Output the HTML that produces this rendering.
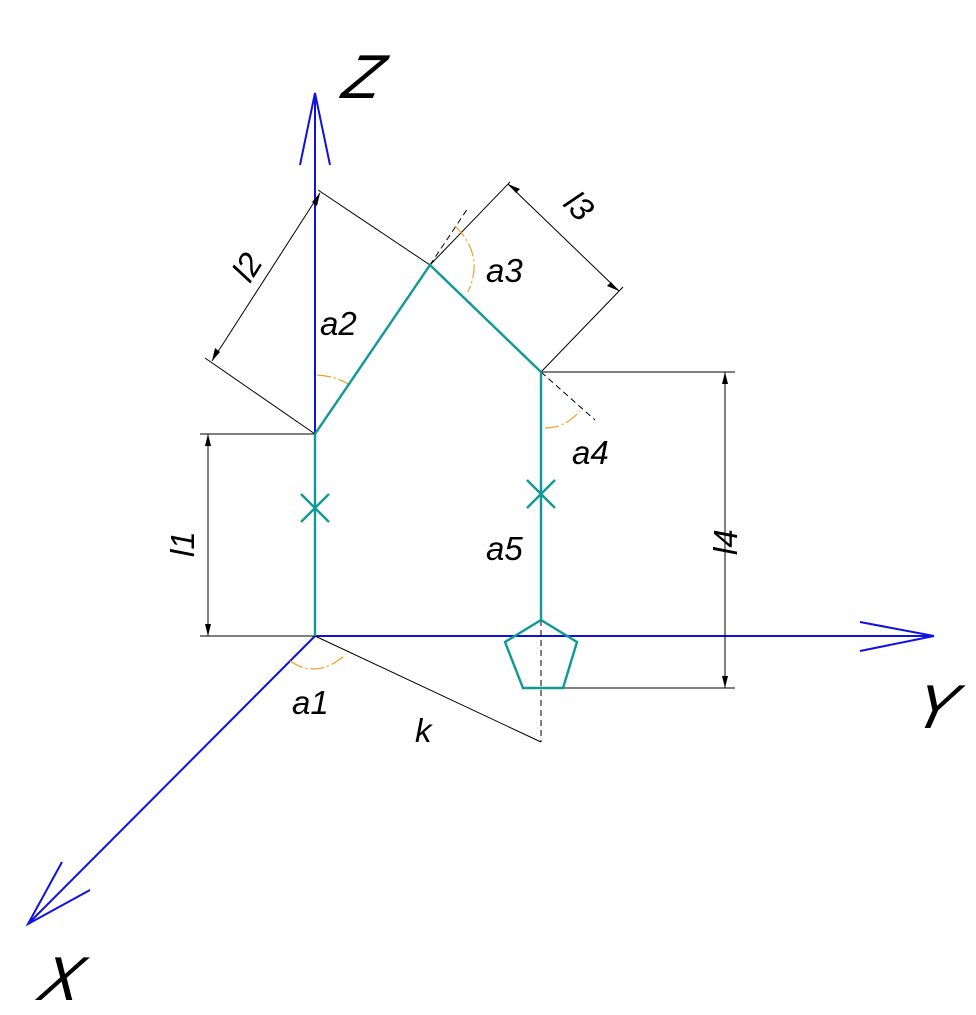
<!DOCTYPE html>
<html><head><meta charset="utf-8"><style>
html,body{margin:0;padding:0;background:#fff;}
svg{display:block;}
text{font-family:"Liberation Sans",sans-serif;fill:#000;}
</style></head><body>
<svg width="976" height="1015" viewBox="0 0 976 1015" xmlns="http://www.w3.org/2000/svg">
<rect width="976" height="1015" fill="#fff"/>
<g stroke="#1010e0" stroke-width="2" fill="none">
<line x1="315" y1="636" x2="315" y2="93"/>
<polyline points="300,165 315,93 330,165"/>
<line x1="315" y1="636" x2="934" y2="636"/>
<polyline points="860,622 934,636 860,651"/>
<line x1="315" y1="636" x2="28" y2="924"/>
<polyline points="62,862 28,924 90,890"/>
</g>
<g stroke="#000" stroke-width="1" fill="none">
<line x1="315" y1="434" x2="205" y2="358"/>
<line x1="430" y1="265" x2="318" y2="190"/>
<line x1="212" y1="361" x2="320" y2="193"/>
<line x1="430" y1="265" x2="510" y2="182"/>
<line x1="541" y1="372" x2="623" y2="287"/>
<line x1="508" y1="184" x2="619" y2="291"/>
<line x1="200" y1="434" x2="315" y2="434"/>
<line x1="200" y1="636" x2="315" y2="636"/>
<line x1="208" y1="434" x2="208" y2="636"/>
<line x1="541" y1="372" x2="735" y2="372"/>
<line x1="550" y1="688" x2="735" y2="688"/>
<line x1="725" y1="372" x2="725" y2="688"/>
<line x1="315" y1="636" x2="541" y2="742"/>
<line x1="541" y1="620" x2="541" y2="742" stroke-dasharray="6,4"/>
<line x1="430" y1="265" x2="468" y2="208" stroke-dasharray="6,4"/>
<line x1="541" y1="372" x2="595" y2="420" stroke-dasharray="6,4"/>
</g>
<g fill="#000">
<polygon points="212,361 215,348 220,352"/>
<polygon points="320,193 317,206 312,202"/>
<polygon points="508,184 520,189 516,193"/>
<polygon points="619,291 607,286 611,282"/>
<polygon points="208,434 205,446 211,446"/>
<polygon points="208,636 205,624 211,624"/>
<polygon points="725,372 722,384 728,384"/>
<polygon points="725,688 722,676 728,676"/>
</g>
<g stroke="#f0a020" stroke-width="1.2" fill="none" stroke-dasharray="14,3,2,3">
<path d="M290,661 Q318,680 346,654"/>
<path d="M317,375 Q335,376 348,384"/>
<path d="M455,226 Q485,255 468,292"/>
<path d="M545,428 Q565,428 580,411"/>
</g>
<g stroke="#109898" stroke-width="2.4" fill="none">
<polyline points="315,636 315,434 430,265 541,372 541,620"/>
<polygon points="541,620 577,642 563,688 523,688 505,642"/>
<line x1="301" y1="494" x2="329" y2="522"/>
<line x1="329" y1="494" x2="301" y2="522"/>
<line x1="527" y1="480" x2="555" y2="508"/>
<line x1="555" y1="480" x2="527" y2="508"/>
</g>
<g font-style="italic">
<text font-size="62" transform="translate(340,98) skewX(-14)" textLength="48">Z</text>
<text font-size="62" transform="translate(910,728) skewX(-14)">Y</text>
<text font-size="62" transform="translate(36,1000) skewX(-14)">X</text>
<text x="320" y="335" font-size="33">a2</text>
<text x="486" y="282" font-size="33">a3</text>
<text x="572" y="464" font-size="33">a4</text>
<text x="486" y="560" font-size="33">a5</text>
<text x="292" y="714" font-size="33">a1</text>
<text x="415" y="742" font-size="33">k</text>
<text font-size="33" transform="translate(250,284) rotate(-58)">l2</text>
<text font-size="33" transform="translate(562,205) rotate(45)">l3</text>
<text font-size="33" transform="translate(194,557) rotate(-90)">l1</text>
<text font-size="33" transform="translate(737,555) rotate(-90)">l4</text>
</g>
</svg>
</body></html>
